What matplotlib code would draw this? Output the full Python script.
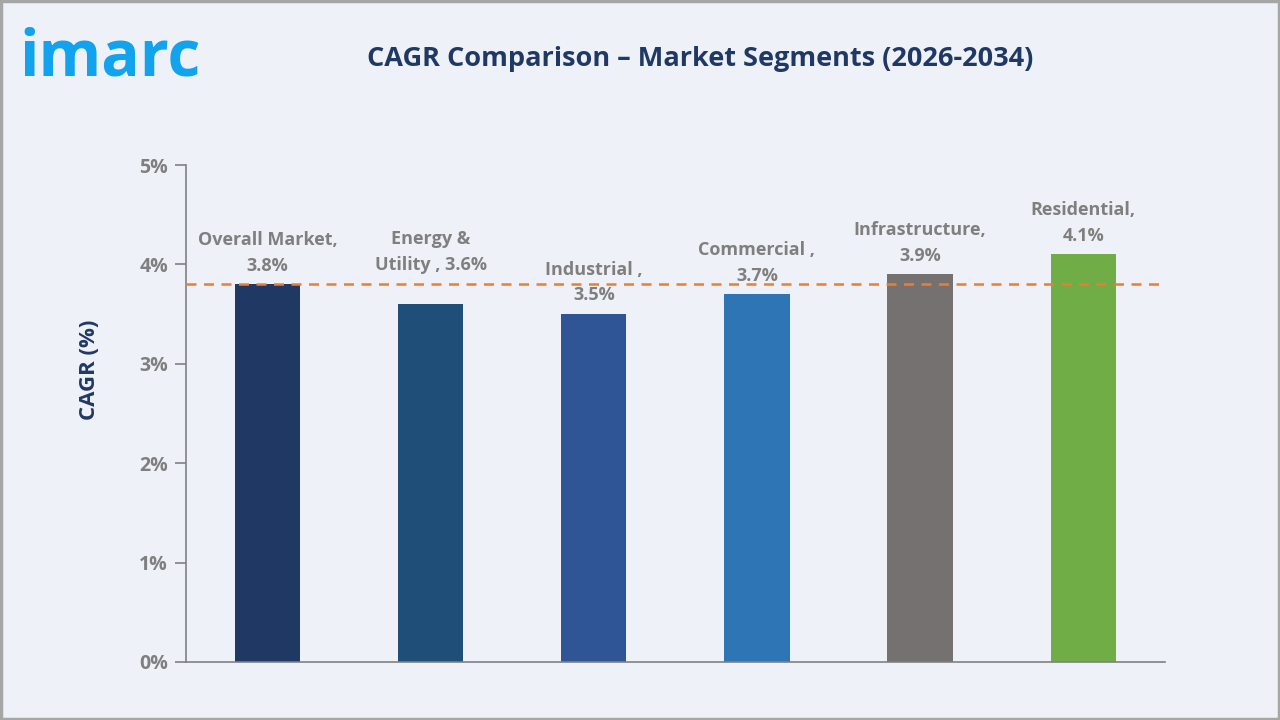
"""
CAGR comparison bar chart for market segments
"""

import matplotlib
matplotlib.use("Agg")
import matplotlib.pyplot as plt
from matplotlib.patches import Rectangle

# Data
segments = ["Overall Market", "Energy &\nUtility ", "Industrial ", "Commercial ", "Infrastructure", "Residential"]
cagr = [3.8, 3.6, 3.5, 3.7, 3.9, 4.1]
overall_cagr = 3.8
y_ticks = [0, 1, 2, 3, 4, 5]

bar_colors = ["#203864", "#1F4E79", "#2F5597", "#2E75B6", "#767171", "#70AD47"]
bg = "#EEF2F8"
navy = "#203864"
grey = "#7F7F7F"

plt.rcParams['font.family'] = ['Open Sans', 'DejaVu Sans']

fig = plt.figure(figsize=(12.8, 7.2), dpi=100, facecolor=bg)
ax = fig.add_axes([0.1453, 0.0806, 0.7647, 0.6902])
ax.set_facecolor(bg)

# Bars
x = range(len(segments))
ax.bar(x, cagr, width=0.4, color=bar_colors, zorder=2)

# Reference line for the overall market
ax.axhline(overall_cagr, color="#ED7D31", linestyle=(0, (4, 3)), linewidth=1.8, zorder=3)

# Data labels, two lines each
for i, (name, val) in enumerate(zip(segments, cagr)):
    if "\n" in name:
        label = f"{name}, {val}%"
        offset = 22
    else:
        label = f"{name},\n{val}%"
        offset = 7
    ax.annotate(label, (i, val), xytext=(0, offset), textcoords="offset points",
                ha="center", va="bottom", fontsize=13, fontweight="bold",
                color=grey, linespacing=1.55, zorder=4)

# Axes styling
ax.set_xlim(-0.5, len(segments) - 0.5)
ax.set_ylim(0, 5)
ax.set_yticks(y_ticks)
ax.set_yticklabels([f"{t}%" for t in y_ticks])
ax.set_xticks([])
for side in ["top", "right"]:
    ax.spines[side].set_visible(False)
for side in ["left", "bottom"]:
    ax.spines[side].set_color("#808080")
    ax.spines[side].set_linewidth(1.2)
ax.tick_params(axis="y", length=8, width=1.2, color="#808080", labelsize=14,
               labelcolor=grey, pad=5)
for lbl in ax.get_yticklabels():
    lbl.set_fontweight("bold")
ax.set_ylabel("CAGR (%)", fontsize=16, fontweight="bold", color=navy)
ax.yaxis.set_label_coords(-0.088, 0.588)

# Title and logo
fig.text(0.547, 0.918, "CAGR Comparison \u2013 Market Segments (2026-2034)",
         ha="center", va="center", fontsize=19.5, fontweight="bold", color=navy)
fig.text(0.015, 0.918, "imarc", ha="left", va="center", fontsize=46,
         fontweight="bold", color="#12A3EE")

# Thin grey frame around the whole picture
fig.patches.append(Rectangle((0.001, 0.001), 0.998, 0.997, transform=fig.transFigure,
                             fill=False, edgecolor="#A6A6A6", linewidth=2.5))

fig.savefig("out.png", dpi=100, facecolor=bg)
